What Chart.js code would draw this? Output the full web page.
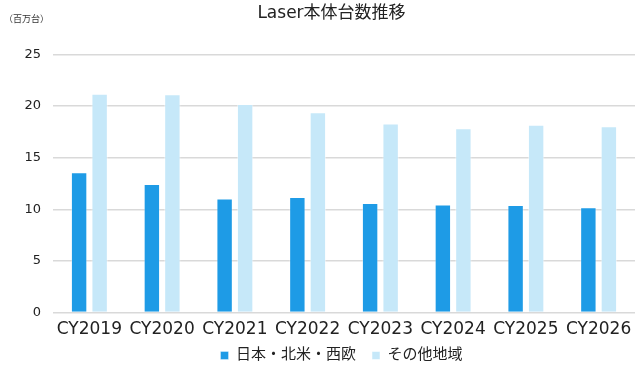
<!DOCTYPE html>
<html lang="ja">
<head>
<meta charset="utf-8">
<title>Laser本体台数推移</title>
<script src="https://cdn.jsdelivr.net/npm/chart.js@4/dist/chart.umd.min.js"></script>
<style>
  html, body { margin: 0; padding: 0; background: #ffffff; }
  #wrap { position: relative; width: 640px; height: 371px; }
  #unit {
    position: absolute; left: 4px; top: 12px;
    font: 9px "DejaVu Sans", "Noto Sans CJK JP", sans-serif;
    color: #333333; white-space: nowrap;
  }
</style>
</head>
<body>
<div id="wrap">
  <canvas id="chart" width="640" height="371"></canvas>
  <div id="unit">（百万台）</div>
</div>
<script>
// Years on the category axis
const categories = ['CY2019', 'CY2020', 'CY2021', 'CY2022', 'CY2023', 'CY2024', 'CY2025', 'CY2026'];
// Units shipped, millions
const seriesJapanNaWe = [13.6, 12.45, 11.05, 11.2, 10.6, 10.47, 10.41, 10.2];
const seriesOther = [21.2, 21.15, 20.2, 19.4, 18.3, 17.85, 18.2, 18.05];
const seriesNames = ['日本・北米・西欧', 'その他地域'];
const yTicks = [0, 5, 10, 15, 20, 25];

const FONT = '"DejaVu Sans", "Noto Sans CJK JP", sans-serif';
const gridColor = '#d9d9d9';

// Nudge the title and legend boxes so they sit over the plot
const boxShift = {
  id: 'boxShift',
  afterLayout(chart) {
    const t = chart.titleBlock;
    if (t) { t.left += 14; t.right += 14; }
    const l = chart.legend;
    if (l) { l.left += 24; l.right += 24; l.top -= 15; l.bottom -= 15; }
  }
};

new Chart(document.getElementById('chart'), {
  type: 'bar',
  data: {
    labels: categories,
    datasets: [
      {
        label: seriesNames[0],
        data: seriesJapanNaWe,
        backgroundColor: '#1e9be6',
        borderColor: 'rgba(255,255,255,0.35)',
        borderWidth: 1
      },
      {
        label: seriesNames[1],
        data: seriesOther,
        backgroundColor: '#c6e8f9',
        borderColor: 'rgba(255,255,255,0.5)',
        borderWidth: 1
      }
    ]
  },
  plugins: [boxShift],
  options: {
    responsive: false,
    animation: false,
    devicePixelRatio: 1,
    layout: { padding: { top: 3, left: 0, right: 5, bottom: -17 } },
    datasets: {
      bar: { categoryPercentage: 0.564, barPercentage: 0.8 }
    },
    plugins: {
      title: {
        display: true,
        text: 'Laser本体台数推移',
        color: '#222222',
        font: { family: FONT, size: 17, weight: 'normal' },
        padding: { top: 0, bottom: 31 }
      },
      legend: {
        position: 'bottom',
        labels: {
          color: '#222222',
          font: { family: FONT, size: 15 },
          boxWidth: 8,
          boxHeight: 8,
          padding: 16
        }
      },
      tooltip: { enabled: false }
    },
    scales: {
      x: {
        grid: { display: false, drawTicks: false },
        border: { display: false },
        ticks: {
          color: '#222222',
          font: { family: FONT, size: 17 },
          padding: 7,
          maxRotation: 0,
          autoSkip: false
        }
      },
      y: {
        min: 0,
        max: 25,
        afterFit: (scale) => { scale.width = 53; },
        afterBuildTicks: (scale) => { scale.ticks = yTicks.map(v => ({ value: v })); },
        grid: { color: gridColor, lineWidth: 1.5, drawTicks: false },
        border: { display: false },
        ticks: {
          color: '#222222',
          font: { family: FONT, size: 13 },
          padding: 12
        }
      }
    }
  }
});
</script>
</body>
</html>
